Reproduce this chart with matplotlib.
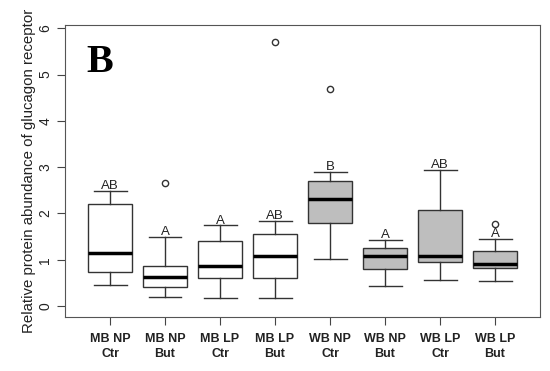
import matplotlib.pyplot as plt

# grupos y estadisticos
groups = ["MB NP\nCtr", "MB NP\nBut", "MB LP\nCtr", "MB LP\nBut",
          "WB NP\nCtr", "WB NP\nBut", "WB LP\nCtr", "WB LP\nBut"]
whislo = [0.45, 0.19, 0.17, 0.17, 1.02, 0.43, 0.56, 0.53]
q1 = [0.74, 0.42, 0.60, 0.61, 1.79, 0.80, 0.96, 0.83]
med = [1.15, 0.62, 0.86, 1.08, 2.31, 1.07, 1.07, 0.91]
q3 = [2.21, 0.86, 1.40, 1.55, 2.70, 1.25, 2.07, 1.18]
whishi = [2.48, 1.50, 1.74, 1.84, 2.89, 1.43, 2.94, 1.45]
fliers = [[], [2.65], [], [5.71], [4.69], [], [], [1.77]]
letters = ["AB", "A", "A", "AB", "B", "A", "AB", "A"]
fills = ["white"] * 4 + ["#bebebe"] * 4

plt.rcParams['font.family'] = ['Liberation Sans', 'DejaVu Sans']

fig = plt.figure(figsize=(5.5, 3.71), dpi=100)
ax = fig.add_axes([0.118, 0.1464, 0.864, 0.7862])

stats = []
for i in range(len(groups)):
    stats.append(dict(whislo=whislo[i], q1=q1[i], med=med[i], q3=q3[i],
                      whishi=whishi[i], fliers=fliers[i]))

pos = list(range(1, len(groups) + 1))
bp = ax.bxp(stats, positions=pos, widths=0.8, patch_artist=True,
            boxprops=dict(edgecolor="#333333", linewidth=1.0),
            whiskerprops=dict(color="#333333", linewidth=1.0),
            capprops=dict(color="#333333", linewidth=1.0),
            medianprops=dict(color="black", linewidth=2.5),
            flierprops=dict(marker="o", markerfacecolor="none",
                            markeredgecolor="#333333", markersize=4.5))
for patch, c in zip(bp["boxes"], fills):
    patch.set_facecolor(c)
for cap in bp["caps"]:
    x = cap.get_xdata()
    cx = (x[0] + x[1]) / 2
    cap.set_xdata([cx - 0.3, cx + 0.3])

# letras de significancia sobre cada bigote
for p, top, l in zip(pos, whishi, letters):
    ax.text(p, top + 0.04, l, ha="center", va="baseline", fontsize=9.5, color="#222222")

ax.text(0.82, 5.27, "B", family="Liberation Serif", fontweight="bold",
        fontsize=29, ha="center", va="center")

ax.set_xlim(0.18, 8.82)
ax.set_ylim(-0.23, 6.07)
ax.set_xticks(pos)
ax.set_xticklabels(groups, fontweight="bold", fontsize=9, linespacing=1.25)
ax.set_yticks(range(0, 7))
ax.set_yticklabels([str(v) for v in range(0, 7)], rotation=90, va="center", fontsize=10)
ax.tick_params(axis="both", length=6, color="#444444", labelcolor="#222222")
ax.tick_params(axis="x", pad=6)
ax.tick_params(axis="y", pad=3)
for s in ax.spines.values():
    s.set_color("#555555")
ax.set_ylabel("Relative protein abundance of glucagon receptor", fontsize=10.8,
              color="#222222", labelpad=2)

fig.savefig("out.png", dpi=100)
